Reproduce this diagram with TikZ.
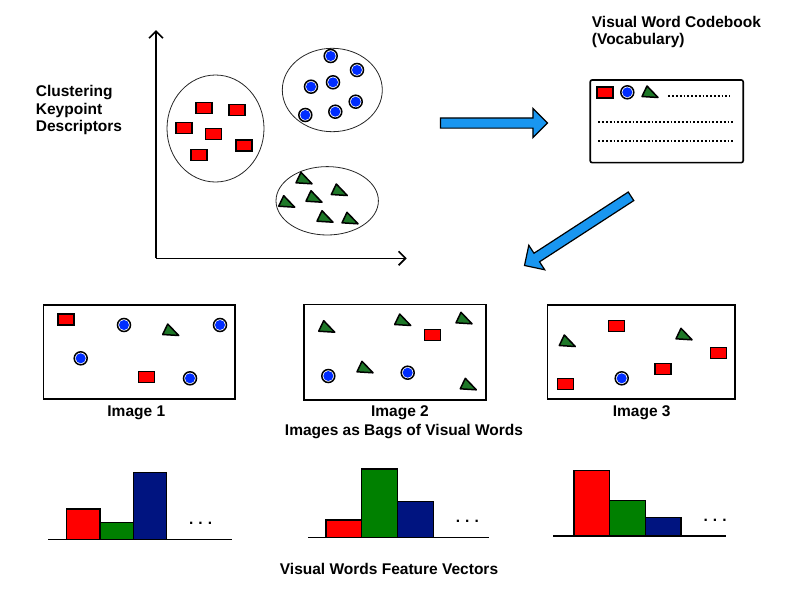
\documentclass[tikz,border=0pt]{standalone}
\usepackage{fontspec}
\setmainfont{Liberation Sans}
\usetikzlibrary{shapes.arrows,arrows.meta}
\definecolor{wordred}{RGB}{255,0,0}
\definecolor{wordblue}{RGB}{0,45,255}
\definecolor{wordgreen}{RGB}{30,120,40}
\definecolor{bargreen}{RGB}{0,128,0}
\definecolor{barblue}{RGB}{0,20,128}
\definecolor{arrowblue}{RGB}{25,150,240}

\begin{document}
\begin{tikzpicture}[
x=1pt, y=-1pt,
plain/.style={
    draw=none,
    fill=none,
    inner sep=0pt,
    font=\bfseries\fontsize{15.5}{17.5}\selectfont
},
rword/.style={
    rectangle,
    draw=black,
    line width=1.3pt,
    fill=wordred,
    inner sep=0pt,
    minimum width=16pt,
    minimum height=11pt
},
bword/.style={
    circle,
    draw=black,
    line width=1.5pt,
    fill=white,
    inner sep=0pt,
    minimum size=13pt,
    path picture={\fill[wordblue] (path picture bounding box.center) circle (5pt);}
},
gword/.pic={
    \filldraw[draw=black, line width=1.5pt, fill=wordgreen, line join=round]
        (-8,4.5) -- (-3,-6) -- (8,5.5) -- cycle;
},
cluster/.style={draw=black!85, line width=0.8pt},
axis/.style={draw=black, line width=1.6pt},
picbox/.style={rectangle, draw=black, line width=1.6pt, inner sep=0pt},
bigarrow/.style={
    single arrow,
    draw=black,
    line width=1.2pt,
    fill=arrowblue,
    inner sep=4.5pt,
    single arrow head extend=9.5pt,
    single arrow head indent=0pt,
    minimum height=#1
},
bar/.style={draw=black, line width=1.3pt},
dotline/.style={draw=black, line width=1.8pt, dash pattern=on 1.8pt off 2pt},
>=latex
]
\useasboundingbox (0,0) rectangle (800,600);

% clustering plot
\coordinate (origin) at (156,258.3);
\coordinate (ytop) at (156,30);
\coordinate (xend) at (406.7,258.3);
\draw[axis, -{Straight Barb[length=7pt,width=14pt]}] (origin) -- (ytop);
\draw[axis, -{Straight Barb[length=7pt,width=14pt]}] (origin) -- (xend);

\draw[cluster] (215.5,128.5) ellipse [x radius=48.5, y radius=53.5];
\draw[cluster] (332.3,90) ellipse [x radius=50, y radius=41.7];
\draw[cluster] (327.2,200.8) ellipse [x radius=51.2, y radius=34.2];

\foreach \x/\y [count=\mi] in {204/108, 237/110, 184/128, 213.5/133.7, 244/145.5, 199/155}
    \node[rword] (cr\mi) at (\x,\y) {};
\foreach \x/\y [count=\mi] in {330.7/56, 357/70, 311/86.7, 333/82.3, 355.7/101.7, 305.3/115, 335.3/111.7}
    \node[bword] (cb\mi) at (\x,\y) {};
\foreach \x/\y [count=\mi] in {304/178.3, 339.3/190, 286.7/201.7, 314/196.7, 325/216.7, 350/218.3}
    \pic (cg\mi) at (\x,\y) {gword};

\node[plain, align=left, anchor=base west] (clust) at (35.7,131.7) {Clustering\\Keypoint\\Descriptors};

% codebook
\node[bigarrow=107] (toBook) at (491.5,123) {};
\node[plain, align=left, anchor=base west] (bookTitle) at (591.7,44.5) {Visual Word Codebook\\(Vocabulary)};
\node[picbox, rounded corners=2pt, minimum width=153pt, minimum height=82.7pt] (book) at (666.7,121.3) {};
\node[rword] (bookR) at (605,92.5) {};
\node[bword] (bookB) at (627.3,92.3) {};
\pic (bookG) at (650,92) {gword};
\draw[dotline] (668.3,96) -- (730,96);
\draw[dotline] (598.3,122.3) -- (732.7,122.3);
\draw[dotline] (598.3,141) -- (732.7,141);
\node[bigarrow=127, rotate=213] (toBags) at (579.9,229.5) {};

% images as bags of words
\node[picbox, minimum width=191.7pt, minimum height=94pt] (img1) at (139.2,352) {};
\node[picbox, minimum width=182pt, minimum height=95.7pt] (img2) at (395,352.2) {};
\node[picbox, minimum width=187.3pt, minimum height=94pt] (img3) at (641.3,352) {};

\foreach \x/\y [count=\mi] in {66/319.5, 146.7/377.2, 432.3/335, 616.2/326.2, 718.3/353, 663/368.8, 565.8/384.2}
    \node[rword] (ir\mi) at (\x,\y) {};
\foreach \x/\y [count=\mi] in {124/325, 220/325, 80.7/358.3, 190/378.3, 328.3/376, 407.7/372.7, 621.7/378.3}
    \node[bword] (ib\mi) at (\x,\y) {};
\foreach \x/\y [count=\mi] in {170.7/330, 326.7/326.7, 402.7/320, 464/318.3, 365/367.3, 468.3/384.3, 567.3/341, 684/334.3}
    \pic (ig\mi) at (\x,\y) {gword};

\foreach \x [count=\mi] in {136.3,400,641.7}
    \node[plain, anchor=base] (lab\mi) at (\x,416.7) {Image \mi};
\node[plain, anchor=base] (bags) at (404,435) {Images as Bags of Visual Words};

% feature vectors
\foreach \bx/\by/\bw/\hr/\hg/\hb/\ll/\lr [count=\mi] in {
    66.7/539.3/33.3/30.3/16.6/66.6/48.3/232.3,
    326/537.7/35.8/17.7/68.7/36/308.3/489,
    574/536/35.7/65.3/35.3/18.3/553.3/725.7}
{
    \draw[bar] (\ll,\by) -- (\lr,\by);
    \draw[bar, fill=wordred] (\bx,\by) rectangle ++(\bw,-\hr);
    \draw[bar, fill=bargreen] (\bx+\bw,\by) rectangle ++(\bw,-\hg);
    \draw[bar, fill=barblue] (\bx+2*\bw,\by) rectangle ++(\bw,-\hb);
    \node[plain] (dots\mi) at (\bx+3*\bw+34,\by-16) {.\hspace{5pt}.\hspace{5pt}.};
}
\node[plain, anchor=base] (vectors) at (389,574.3) {Visual Words Feature Vectors};
\end{tikzpicture}
\end{document}
